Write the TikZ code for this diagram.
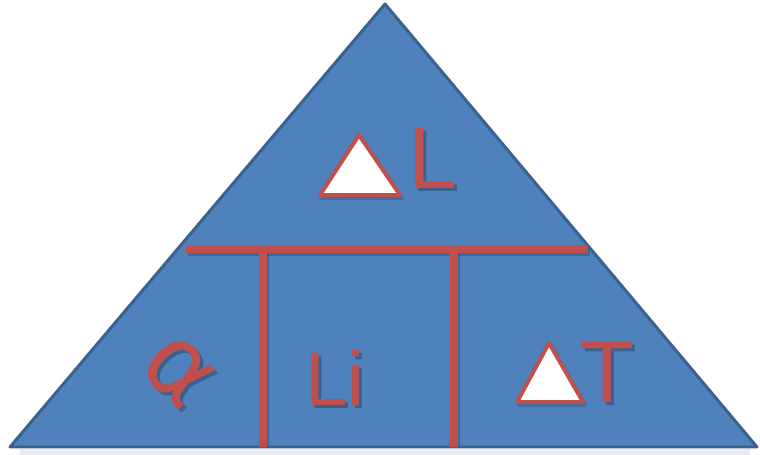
\documentclass[tikz,border=0pt]{standalone}
\usepackage{fontspec}
\setmainfont{Liberation Sans}
\newfontfamily\greekfont{DejaVu Sans}
\definecolor{tblue}{HTML}{4F81BD}
\definecolor{tborder}{HTML}{3A6190}
\definecolor{tred}{HTML}{C0504D}
\begin{document}
\begin{tikzpicture}[x=0.03cm,y=-0.03cm,
  redline/.style={draw=tred,line width=6.8pt},
  shadowline/.style={draw=black,opacity=0.18,line width=7.5pt},
  deltabox/.style={draw=tred,line width=3.4pt,fill=white,line join=round},
  deltashadow/.style={draw=black,opacity=0.15,line width=3.4pt,line join=round},
  bigtext/.style={inner sep=0pt,anchor=base,font=\fontsize{75}{75}\selectfont},
  midtext/.style={inner sep=0pt,anchor=base,font=\fontsize{65}{65}\selectfont},
  alphatext/.style={inner sep=0pt,rotate=-45,font=\greekfont\fontsize{84}{84}\selectfont},
  redtext/.style={text=tred},
  shadowtext/.style={text=black,text opacity=0.25}
]
\fill[white] (0,0) rectangle (760,455);
\useasboundingbox (0,0) rectangle (760,455);
% base shadow
\fill[black,opacity=0.08] (20,449) rectangle (750,455);
% main triangle
\draw[fill=tblue,draw=tborder,line width=2.55pt,line join=round]
  (385,4) -- (757,447) -- (10,447) -- cycle;
% red divider shadows
\draw[shadowline] (188,252) -- (590,252);
\draw[shadowline] (265,254) -- (265,447);
\draw[shadowline] (456,254) -- (456,447);
% red dividers
\draw[redline] (186,249) -- (588,249);
\draw[redline] (263,249) -- (263,447);
\draw[redline] (454,249) -- (454,447);
% Delta L
\draw[deltashadow] (361,138) -- (402,198) -- (322,198) -- cycle;
\draw[deltabox] (359,135) -- (400,195) -- (320,195) -- cycle;
\node[bigtext,shadowtext] (Lsh) at (436,192) {L};
\node[bigtext,redtext] (L) at (433,189) {L};
% alpha
\node[alphatext,shadowtext] (alphash) at (181,374) {α};
\node[alphatext,redtext] (alpha) at (178,371) {α};
% Li
\node[midtext,shadowtext] (Lish) at (338,408) {Li};
\node[midtext,redtext] (Li) at (335,405) {Li};
% Delta T
\draw[deltashadow] (551,346) -- (585,405) -- (519,405) -- cycle;
\draw[deltabox] (549,343) -- (583,402) -- (517,402) -- cycle;
\node[bigtext,shadowtext] (Tsh) at (610,405) {T};
\node[bigtext,redtext] (T) at (607,402) {T};
\end{tikzpicture}
\end{document}
